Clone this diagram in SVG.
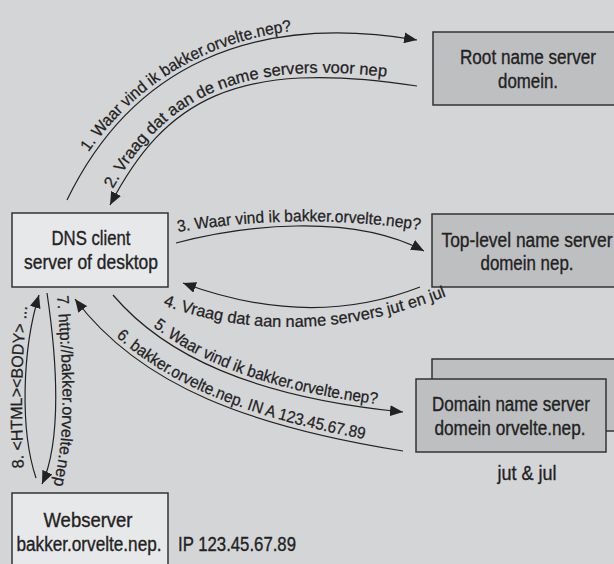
<svg xmlns="http://www.w3.org/2000/svg" width="614" height="564" viewBox="0 0 614 564">
  <defs>
    <style>
      .dark { fill: #bebfc1; stroke: #333; stroke-width: 1.5; }
      .light { fill: #e7e8ea; stroke: #333; stroke-width: 1.5; }
      .conn { fill: none; stroke: #222; stroke-width: 1.2; }
      .node-text { font-family: "Liberation Sans", Arial, sans-serif; font-size: 20px; fill: #222; stroke: #222; stroke-width: 0.35; text-anchor: middle; }
      .plain { font-family: "Liberation Sans", Arial, sans-serif; font-size: 20px; fill: #222; stroke: #222; stroke-width: 0.35; }
      .lbl { font-family: "Liberation Sans", Arial, sans-serif; font-size: 16.5px; fill: #222; stroke: #222; stroke-width: 0.25; }
    </style>
    <marker id="arrow" markerUnits="userSpaceOnUse" markerWidth="14" markerHeight="11" refX="13" refY="5.5" orient="auto">
      <path d="M0,0 L13,5.5 L0,11 z" fill="#222"/>
    </marker>
    <!-- baselines for the curved message labels -->
    <path id="p1" d="M62,198 C126,66 251,7 417,35"/>
    <path id="p2" d="M105,203 C160,98 236,53 418,81"/>
    <path id="p3" d="M178,232 Q300,212 420,230"/>
    <path id="p4" d="M162,305 Q300,354 452,294"/>
    <path id="p5" d="M117,292 C168,352 253,392 403,407"/>
    <path id="p6" d="M79,296 C145,384 254,422 404,446"/>
    <path id="p7" d="M57,296 C63,370 67,430 53,487"/>
    <path id="p8" d="M24,470 C21,420 21,360 28,300"/>
  </defs>

  <rect x="0" y="0" width="614" height="564" fill="#d4d5d7"/>

  <g id="root-server">
    <rect class="dark" x="433" y="32" width="200" height="73"/>
    <text class="node-text" x="528" y="64" textLength="136" lengthAdjust="spacingAndGlyphs">Root name server</text>
    <text class="node-text" x="528" y="88" textLength="60" lengthAdjust="spacingAndGlyphs">domein.</text>
  </g>

  <g id="tld-server">
    <rect class="dark" x="432" y="214" width="200" height="73"/>
    <text class="node-text" x="527" y="247" textLength="171" lengthAdjust="spacingAndGlyphs">Top-level name server</text>
    <text class="node-text" x="527" y="270" textLength="93" lengthAdjust="spacingAndGlyphs">domein nep.</text>
  </g>

  <g id="domain-server">
    <rect class="dark" x="432" y="359" width="200" height="72"/>
    <rect class="dark" x="416" y="379" width="190" height="73"/>
    <text class="node-text" x="511" y="411" textLength="158" lengthAdjust="spacingAndGlyphs">Domain name server</text>
    <text class="node-text" x="510" y="435" textLength="151" lengthAdjust="spacingAndGlyphs">domein orvelte.nep.</text>
    <text class="node-text" x="527" y="480" textLength="59" lengthAdjust="spacingAndGlyphs">jut &amp; jul</text>
  </g>

  <g id="dns-client">
    <rect class="light" x="12" y="213" width="156" height="74"/>
    <text class="node-text" x="91" y="245" textLength="79" lengthAdjust="spacingAndGlyphs">DNS client</text>
    <text class="node-text" x="91" y="269" textLength="134" lengthAdjust="spacingAndGlyphs">server of desktop</text>
  </g>

  <g id="webserver">
    <rect class="light" x="12" y="493" width="156" height="100"/>
    <text class="node-text" x="88" y="527" textLength="89" lengthAdjust="spacingAndGlyphs">Webserver</text>
    <text class="node-text" x="89" y="551" textLength="145" lengthAdjust="spacingAndGlyphs">bakker.orvelte.nep.</text>
    <text class="plain" x="178" y="551" textLength="118" lengthAdjust="spacingAndGlyphs">IP 123.45.67.89</text>
  </g>

  <g id="connectors">
    <path class="conn" d="M67,200 C131,68 250,12 417,40" marker-end="url(#arrow)"/>
    <path class="conn" d="M417,86 C235,58 165,100 110,205" marker-end="url(#arrow)"/>
    <path class="conn" d="M176,243 C240,226 350,212 424,251" marker-end="url(#arrow)"/>
    <path class="conn" d="M420,287 Q310,330 183,283" marker-end="url(#arrow)"/>
    <path class="conn" d="M113,295 C164,355 252,397 403,412" marker-end="url(#arrow)"/>
    <path class="conn" d="M403,451 C253,427 141,387 75,299" marker-end="url(#arrow)"/>
    <path class="conn" d="M47,293 C57,360 62,440 42,484" marker-end="url(#arrow)"/>
    <path class="conn" d="M36,478 C20,430 22,350 39,295" marker-end="url(#arrow)"/>

    <text class="lbl"><textPath href="#p1" startOffset="53" textLength="244" lengthAdjust="spacingAndGlyphs">1. Waar vind ik bakker.orvelte.nep?</textPath></text>
    <text class="lbl"><textPath href="#p2" startOffset="16" textLength="318" lengthAdjust="spacingAndGlyphs">2. Vraag dat aan de name servers voor nep</textPath></text>
    <text class="lbl"><textPath href="#p3" startOffset="0" textLength="243" lengthAdjust="spacingAndGlyphs">3. Waar vind ik bakker.orvelte.nep?</textPath></text>
    <text class="lbl"><textPath href="#p4" startOffset="1" textLength="290" lengthAdjust="spacingAndGlyphs">4. Vraag dat aan name servers jut en jul</textPath></text>
    <text class="lbl"><textPath href="#p5" startOffset="50" textLength="240" lengthAdjust="spacingAndGlyphs">5. Waar vind ik bakker.orvelte.nep?</textPath></text>
    <text class="lbl"><textPath href="#p6" startOffset="55" textLength="272" lengthAdjust="spacingAndGlyphs">6. bakker.orvelte.nep. IN A 123.45.67.89</textPath></text>
    <text class="lbl"><textPath href="#p7" startOffset="0" textLength="190" lengthAdjust="spacingAndGlyphs">7. http://bakker.orvelte.nep</textPath></text>
    <text class="lbl"><textPath href="#p8" startOffset="2" textLength="162" lengthAdjust="spacingAndGlyphs">8. &lt;HTML&gt;&lt;BODY&gt; ...</textPath></text>
  </g>
</svg>
